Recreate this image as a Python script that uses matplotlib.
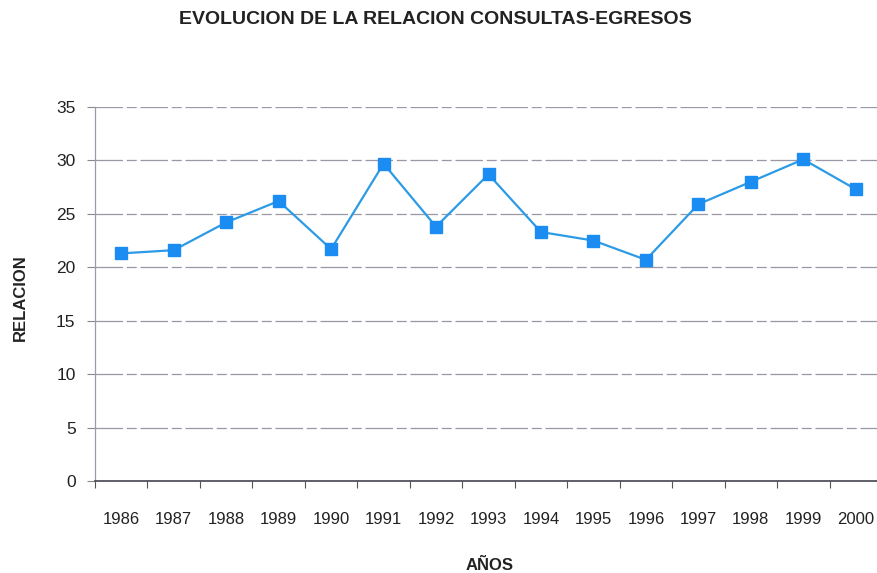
import matplotlib
matplotlib.use("Agg")
import matplotlib.pyplot as plt
import numpy as np

years = ["1986", "1987", "1988", "1989", "1990", "1991", "1992", "1993",
         "1994", "1995", "1996", "1997", "1998", "1999", "2000"]
relacion = [21.3, 21.6, 24.2, 26.2, 21.7, 29.7, 23.8, 28.7,
            23.3, 22.5, 20.7, 25.9, 28.0, 30.1, 27.3]
yticks = [0, 5, 10, 15, 20, 25, 30, 35]

plt.rcParams['font.family'] = ['Liberation Sans', 'DejaVu Sans']

fig = plt.figure(figsize=(8.78, 5.73), dpi=100)
ax = fig.add_axes([95/878, 1-481/573, 787/878, (481-107)/573])

x = np.arange(len(years))
ax.plot(x, relacion, color='#2c9be6', lw=1.6, marker='s', markersize=8.5,
        markerfacecolor='#1a8cf2', markeredgecolor='#1a8cf2', zorder=3)

ax.set_xlim(-0.5, len(years) - 0.5)
ax.set_ylim(0, 35)
ax.set_yticks(yticks)
ax.set_yticklabels([str(v) for v in yticks], fontsize=12.5, color='#222222')
for v in yticks[1:]:
    ax.axhline(v, color='#7e7e90', lw=0.9, ls=(0, (22, 3, 8, 3)), alpha=0.8, zorder=1)

ax.set_xticks(x)
ax.set_xticklabels(years, fontsize=12, color='#222222')
ax.set_xticks(np.arange(len(years) + 1) - 0.5, minor=True)
ax.tick_params(axis='x', which='major', length=0, pad=22)
ax.tick_params(axis='x', which='minor', length=5, direction='out', color='#555555', width=0.8)
ax.tick_params(axis='y', length=6, direction='out', color='#888888', width=0.8, pad=8)

for s in ['top', 'right']:
    ax.spines[s].set_visible(False)
ax.spines['left'].set_color('#9a9aaa')
ax.spines['left'].set_linewidth(0.9)
ax.spines['bottom'].set_color('#444450')
ax.spines['bottom'].set_linewidth(1.2)

fig.text(435/878, 1-19/573, "EVOLUCION DE LA RELACION CONSULTAS-EGRESOS",
         ha='center', va='center', fontsize=14, fontweight='bold', color='#222222')
fig.text(490/878, 1-565/573, "AÑOS", ha='center', va='center', fontsize=12,
         fontweight='bold', color='#222222')
fig.text(20/878, 1-298/573, "RELACION", ha='center', va='center', fontsize=12,
         fontweight='bold', color='#222222', rotation=90)

fig.savefig("out.png", dpi=100)
